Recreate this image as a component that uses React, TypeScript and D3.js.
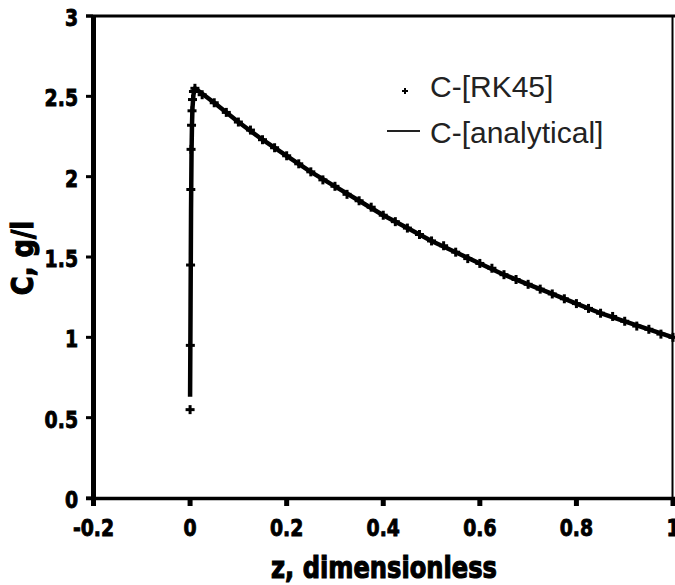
import React from "react";
import * as d3 from "d3";

// values
const rkZ = [0, 0.0005, 0.001, 0.0015, 0.002, 0.003, 0.004, 0.005, 0.007, 0.01,
  0.025, 0.05, 0.075, 0.1, 0.125, 0.15, 0.175, 0.2, 0.225, 0.25, 0.275, 0.3,
  0.325, 0.35, 0.375, 0.4, 0.425, 0.45, 0.475, 0.5, 0.525, 0.55, 0.575, 0.6,
  0.625, 0.65, 0.675, 0.7, 0.725, 0.75, 0.775, 0.8, 0.825, 0.85, 0.875, 0.9,
  0.925, 0.95, 0.975, 1.0];
const rkC = [0.55, 0.95, 1.45, 1.92, 2.17, 2.32, 2.41, 2.48, 2.53, 2.55,
  2.51, 2.46, 2.4, 2.34, 2.29, 2.23, 2.18, 2.13, 2.08, 2.03, 1.98, 1.94,
  1.89, 1.85, 1.81, 1.76, 1.72, 1.68, 1.64, 1.6, 1.57, 1.53, 1.49, 1.46,
  1.43, 1.39, 1.36, 1.33, 1.3, 1.27, 1.24, 1.21, 1.18, 1.15, 1.13, 1.1,
  1.07, 1.05, 1.02, 1.0];

const anZ = [0, 0.001, 0.002, 0.003, 0.004, 0.005, 0.007, 0.01, 0.05, 0.1,
  0.15, 0.2, 0.25, 0.3, 0.35, 0.4, 0.45, 0.5, 0.55, 0.6, 0.65, 0.7, 0.75,
  0.8, 0.85, 0.9, 0.95, 1.0];
const anC = [0.63, 1.2, 1.8, 2.15, 2.33, 2.43, 2.51, 2.55, 2.46, 2.34,
  2.23, 2.13, 2.03, 1.94, 1.85, 1.76, 1.68, 1.6, 1.53, 1.46, 1.39, 1.33, 1.27,
  1.21, 1.15, 1.1, 1.05, 1.0];

const xTicks = [-0.2, 0, 0.2, 0.4, 0.6, 0.8, 1];
const xTickLabels = ["-0.2", "0", "0.2", "0.4", "0.6", "0.8", "1"];
const yTicks = [0, 0.5, 1, 1.5, 2, 2.5, 3];
const yTickLabels = ["0", "0.5", "1", "1.5", "2", "2.5", "3"];

const seriesNames = ["C-[RK45]", "C-[analytical]"];

const App = () => {
  const x = d3.scaleLinear().domain([-0.2, 1]).range([93.5, 673]);
  const y = d3.scaleLinear().domain([0, 3]).range([498, 16]);

  const line = d3.line<number>()
    .x((d, i) => x(anZ[i]))
    .y(d => y(d));

  const boldFont = "'DejaVu Sans', sans-serif";
  const plus = (cx: number, cy: number, r: number, w: number, key?: any) => (
    <g key={key}>
      <line x1={cx - r} x2={cx + r} y1={cy} y2={cy} stroke="#000" strokeWidth={w} />
      <line x1={cx} x2={cx} y1={cy - r} y2={cy + r} stroke="#000" strokeWidth={w} />
    </g>
  );

  return (
    <svg width={675} height={585} style={{position: "absolute", left: 0, top: 0, background: "#fff"}}>
      <rect width={675} height={585} fill="#fff" />

      {/* frame */}
      <line x1={86} x2={675} y1={16} y2={16} stroke="#000" strokeWidth={3} />
      <line x1={672.5} x2={672.5} y1={16} y2={498} stroke="#000" strokeWidth={2} />
      <line x1={86} x2={675} y1={498.5} y2={498.5} stroke="#000" strokeWidth={3.5} />
      <line x1={93.5} x2={93.5} y1={16} y2={500} stroke="#000" strokeWidth={5} />

      {/* y axis ticks */}
      {yTicks.map((t, i) => (
        <g key={"y" + i}>
          <line x1={86} x2={93} y1={y(t)} y2={y(t)} stroke="#000" strokeWidth={3} />
          <text transform={`translate(78,${y(t) + 10}) scale(0.82,1)`} textAnchor="end"
            fontFamily={boldFont} fontWeight="bold" fontSize={23}
            stroke="#000" strokeWidth={0.9}>{yTickLabels[i]}</text>
        </g>
      ))}

      {/* x axis ticks */}
      {xTicks.map((t, i) => (
        <g key={"x" + i}>
          <line x1={x(t)} x2={x(t)} y1={498} y2={506} stroke="#000" strokeWidth={5} />
          <text transform={`translate(${x(t)},536) scale(0.82,1)`} textAnchor="middle"
            fontFamily={boldFont} fontWeight="bold" fontSize={23}
            stroke="#000" strokeWidth={0.9}>{xTickLabels[i]}</text>
        </g>
      ))}

      {/* axis titles */}
      <text transform="translate(384,578) scale(0.78,1)" textAnchor="middle"
        fontFamily={boldFont} fontWeight="bold" fontSize={31}
        stroke="#000" strokeWidth={1.2}>z, dimensionless</text>
      <text transform="translate(33,258) rotate(-90) scale(0.86,1)" textAnchor="middle"
        fontFamily={boldFont} fontWeight="bold" fontSize={30}
        stroke="#000" strokeWidth={1.2}>C, g/l</text>

      {/* analytical line */}
      <path d={line(anC) || ""} fill="none" stroke="#000" strokeWidth={4.5} strokeLinejoin="round" />

      {/* RK45 points */}
      {rkC.map((c, i) => plus(x(rkZ[i]), y(c), 4.5, 3, "p" + i))}

      {/* legend */}
      {plus(405, 91, 3, 2)}
      <text x={430} y={97} fontFamily="'Liberation Sans', Arial, sans-serif" fontSize={30} fill="#222">{seriesNames[0]}</text>
      <line x1={387} x2={420} y1={131} y2={131} stroke="#222" strokeWidth={2} />
      <text x={430} y={143} fontFamily="'Liberation Sans', Arial, sans-serif" fontSize={30} fill="#222">{seriesNames[1]}</text>
    </svg>
  );
};

export default App;
